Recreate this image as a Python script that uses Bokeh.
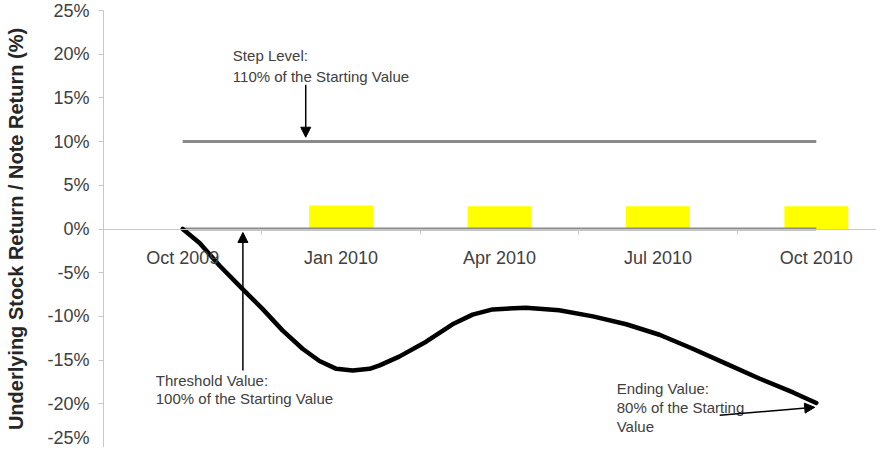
from bokeh.plotting import figure
from bokeh.models import (FixedTicker, ColumnDataSource, Arrow, NormalHead, Range1d)
from bokeh.core.properties import value
from bokeh.embed import file_html
from bokeh.resources import INLINE

# --- data (x in months after Oct 2009) ---
tick_months = [0, 3, 6, 9, 12]
tick_labels = ["Oct 2009", "Jan 2010", "Apr 2010", "Jul 2010", "Oct 2010"]
boundary_months = [-1.5, 1.5, 4.5, 7.5, 10.5]

bar_months = [3, 6, 9, 12]
bar_values = [2.7, 2.6, 2.6, 2.6]

level_start = [0, 0]
level_end = [12, 12]
level_values = [10, 0]

curve_months = [0, 0.32, 0.70, 1.14, 1.52, 1.89, 2.27, 2.59, 2.91, 3.22, 3.54,
                3.73, 4.10, 4.61, 5.11, 5.49, 5.87, 6.50, 7.13, 7.77, 8.40,
                9.03, 9.66, 10.29, 10.92, 11.56, 12.0]
curve_values = [0, -1.6, -4.2, -6.9, -9.2, -11.6, -13.7, -15.1, -16.0, -16.2, -16.0,
                -15.6, -14.6, -12.9, -10.9, -9.8, -9.2, -9.0, -9.3, -10.0, -10.9,
                -12.1, -13.7, -15.4, -17.1, -18.7, -19.9]

note_x = [0.95, 0.95, -0.51, -0.51, 8.22, 8.22, 8.22]
note_y = [19.9, 17.5, -17.3, -19.4, -18.2, -20.4, -22.6]
note_text = ["Step Level:", "110% of the Starting Value",
             "Threshold Value:", "100% of the Starting Value",
             "Ending Value:", "80% of the Starting", "Value"]

arrow_x0 = [2.33, 1.14, 10.17]
arrow_y0 = [16.5, -16.2, -21.3]
arrow_x1 = [2.33, 1.14, 11.97]
arrow_y1 = [10.5, -0.4, -20.4]

y_ticks = [-25, -20, -15, -10, -5, 0, 5, 10, 15, 20, 25]

FONT = "Liberation Sans"
TXT = "#404040"

p = figure(width=876, height=447, output_backend="svg", toolbar_location=None,
           x_range=Range1d(-1.5, 13.14), y_range=Range1d(-25, 25),
           min_border_left=103, min_border_right=0, min_border_top=10, min_border_bottom=0)
p.outline_line_color = None
p.grid.visible = False
p.background_fill_color = "white"

# bars
p.vbar(x=bar_months, top=bar_values, bottom=0, width=1.21,
       fill_color="#ffff00", line_color=None)

# level lines
p.segment(x0=level_start, y0=level_values, x1=level_end, y1=level_values,
          line_color="#8a8a8a", line_width=3)

# curve
p.line(curve_months, curve_values, line_color="black", line_width=4.5,
       line_join="round", line_cap="round")

# annotation texts
src = ColumnDataSource(dict(x=note_x, y=note_y, t=note_text))
p.text(x="x", y="y", text="t", source=src, text_font=value(FONT),
       text_font_size="15px", text_color=TXT, text_baseline="alphabetic",
       text_align="left")

for x0, y0, x1, y1 in zip(arrow_x0, arrow_y0, arrow_x1, arrow_y1):
    p.add_layout(Arrow(x_start=x0, y_start=y0, x_end=x1, y_end=y1,
                       line_color="black", line_width=1.5,
                       end=NormalHead(size=10, fill_color="black", line_color="black")))

# x axis at zero
xa = p.xaxis[0]
xa.fixed_location = 0
xa.ticker = FixedTicker(ticks=tick_months, minor_ticks=boundary_months)
xa.major_label_overrides = {m: l for m, l in zip(tick_months, tick_labels)}
xa.major_tick_out = 0
xa.major_tick_in = 0
xa.minor_tick_out = 5
xa.minor_tick_in = 0
xa.minor_tick_line_color = "#c8c8c8"
xa.axis_line_color = "#c8c8c8"
xa.major_label_text_font = FONT
xa.major_label_text_font_size = "18px"
xa.major_label_text_color = TXT
xa.major_label_standoff = 14

ya = p.yaxis[0]
ya.ticker = FixedTicker(ticks=y_ticks, minor_ticks=[])
ya.major_label_overrides = {t: f"{t}%" for t in y_ticks}
ya.axis_line_color = "#c8c8c8"
ya.major_tick_line_color = "#c8c8c8"
ya.major_tick_out = 5
ya.major_tick_in = 0
ya.major_label_text_font = FONT
ya.major_label_text_font_size = "18px"
ya.major_label_text_color = TXT
ya.major_label_standoff = 9
ya.axis_label = "Underlying Stock Return / Note Return (%)"
ya.axis_label_text_font = FONT
ya.axis_label_text_font_style = "bold"
ya.axis_label_text_font_size = "20px"
ya.axis_label_text_color = "#262626"
ya.axis_label_standoff = 17

open("out.html", "w").write(file_html(p, INLINE))
